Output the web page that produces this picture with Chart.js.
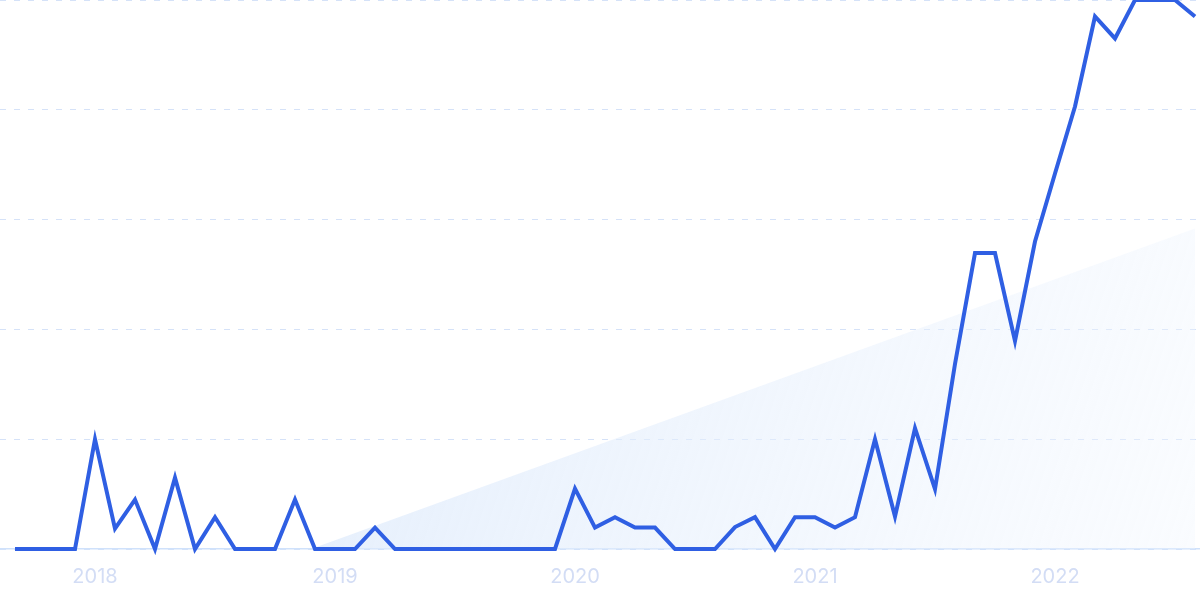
<!DOCTYPE html>
<html>
<head>
<meta charset="utf-8">
<script src="https://cdn.jsdelivr.net/npm/chart.js@4/dist/chart.umd.min.js"></script>
<style>
  html, body { margin: 0; padding: 0; background: #fff; }
  #wrap { width: 1200px; height: 600px; }
</style>
</head>
<body>
<div id="wrap"><canvas id="trendChart"></canvas></div>
<script>
// monthly points, Sep 2017 .. Aug 2022 (index 0 = Sep 2017)
const monthIndex = [...Array(60).keys()];
const interest = [
  0, 0, 0, 0, 20, 3.7, 9, 0, 13, 0, 5.8, 0,
  0, 0, 9, 0, 0, 0, 3.9, 0, 0, 0, 0, 0,
  0, 0, 0, 0, 11, 3.9, 5.8, 3.9, 3.9, 0, 0, 0,
  4, 5.8, 0, 5.8, 5.8, 3.9, 5.8, 20, 5.9, 22, 10.9, 33.7,
  53.9, 53.9, 37.9, 56, 68.4, 80.6, 97, 93, 100, 100, 100, 97
];
// faint background wedge (start / end)
const wedgeX = [14.8, 59];
const wedgeY = [0, 58.4];
const yearLabels = ['2018', '2019', '2020', '2021', '2022'];
const yearTickIndex = [4, 16, 28, 40, 52];

const ctx = document.getElementById('trendChart').getContext('2d');
new Chart(ctx, {
    type: 'line',
    data: {
        datasets: [{
            data: monthIndex.map((x, i) => ({ x: x, y: interest[i] })),
            borderColor: '#2f5fe3',
            borderWidth: 4,
            pointRadius: 0,
            tension: 0,
            fill: false,
            order: 0,
            clip: false
        }, {
            data: wedgeX.map((x, i) => ({ x: x, y: wedgeY[i] })),
            borderWidth: 0,
            pointRadius: 0,
            fill: 'origin',
            order: 1,
            backgroundColor: (c) => {
                const area = c.chart.chartArea;
                if (!area) return 'rgba(225,236,252,0.6)';
                const g = c.chart.ctx.createLinearGradient(area.left + 300, area.top + 250, area.right, area.bottom);
                g.addColorStop(0, 'rgba(218,232,251,0.75)');
                g.addColorStop(1, 'rgba(240,246,254,0.35)');
                return g;
            }
        }]
    },
    options: {
        responsive: true,
        maintainAspectRatio: false,
        animation: false,
        layout: { padding: { left: 0, right: 0, top: 0, bottom: 3 } },
        plugins: { legend: { display: false }, tooltip: { enabled: false } },
        scales: {
            x: {
                type: 'linear',
                min: -0.75,
                max: 59.25,
                afterBuildTicks: (axis) => {
                    axis.ticks = yearTickIndex.map(v => ({ value: v }));
                },
                ticks: {
                    autoSkip: false,
                    maxRotation: 0,
                    padding: 8,
                    color: '#d3ddf5',
                    font: { family: 'Inter', size: 20 },
                    callback: (v) => yearLabels[yearTickIndex.indexOf(v)]
                },
                grid: { display: false },
                border: { display: true, color: '#cfe1fb', width: 1.5 }
            },
            y: {
                min: 0,
                max: 100,
                ticks: { display: false, stepSize: 20 },
                grid: { color: '#d5e2f8', lineWidth: 1, drawTicks: false },
                border: { display: false, dash: [6, 8] }
            }
        }
    }
});
</script>
</body>
</html>
